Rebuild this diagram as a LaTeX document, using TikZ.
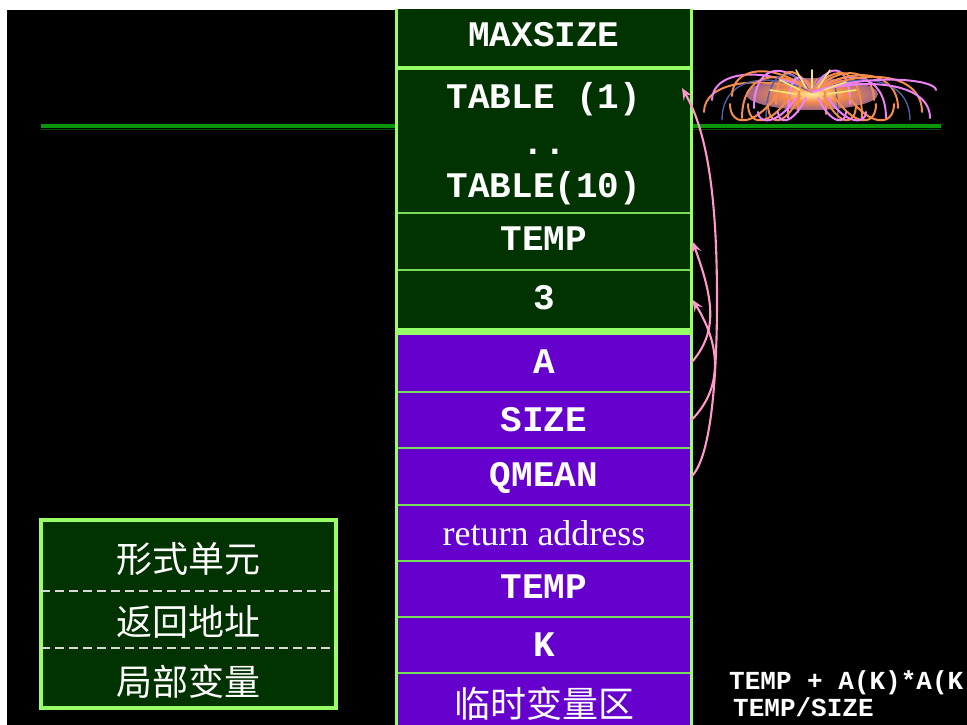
\documentclass[tikz,border=0pt]{standalone}
\usepackage{fontspec}
\setmonofont{Liberation Mono}
\newfontfamily\serifrm{Liberation Serif}
\newfontfamily\cjk{Noto Sans CJK SC}
\usetikzlibrary{arrows.meta}

\definecolor{gfill}{RGB}{0,51,0}
\definecolor{pfill}{RGB}{102,0,204}
\definecolor{edge}{RGB}{153,255,102}
\definecolor{thinline}{RGB}{120,220,90}
\definecolor{pinkarr}{RGB}{255,153,204}
\definecolor{railhi}{RGB}{10,150,10}
\definecolor{raillo}{RGB}{0,80,0}
\definecolor{fwcore}{RGB}{255,235,150}
\definecolor{fworange}{RGB}{245,140,75}
\definecolor{fwpurple}{RGB}{110,80,170}
\definecolor{fwpink}{RGB}{235,130,245}
\definecolor{fwblue}{RGB}{80,95,160}
\definecolor{fwyellow}{RGB}{245,230,120}

\pgfdeclareradialshading{fwglow}{\pgfpoint{0bp}{0bp}}{%
  color(0bp)=(fwcore); color(12bp)=(fworange); color(32bp)=(fwpurple); color(50bp)=(black)}

\tikzset{
  cell/.style={rectangle, minimum width=295, outer sep=0, inner sep=0,
               draw=thinline, line width=1.3pt},
  outline/.style={draw=edge, line width=3.2pt},
  monolab/.style={text=white, font=\ttfamily\bfseries\fontsize{36}{40}\selectfont,
                  anchor=base, inner sep=0},
  smallmono/.style={text=white, font=\ttfamily\bfseries\fontsize{26}{30}\selectfont,
                  anchor=base west, inner sep=0},
  seriflab/.style={text=white, font=\serifrm\fontsize{36}{40}\selectfont,
                  anchor=base, inner sep=0},
  cjklab/.style={text=white, font=\cjk\fontsize{36}{40}\selectfont, inner sep=0},
  lbox/.style={rectangle, minimum width=295, minimum height=188, outer sep=0,
               fill=gfill, draw=edge, line width=3.2pt},
  dashline/.style={draw=white!85!black, line width=1.3pt, dash pattern=on 9pt off 5pt},
  parr/.style={draw=pinkarr, line width=2.1pt,
               -{Stealth[length=12pt,width=10pt,inset=5pt]}},
  fwo/.style={draw=fworange, line width=2pt, line cap=round},
  fwp/.style={draw=fwpink, line width=2pt, line cap=round},
  fwb/.style={draw=fwblue, line width=1.4pt, line cap=round},
  fwy/.style={draw=fwyellow, line width=1.6pt, line cap=round},
}

\begin{document}
\begin{tikzpicture}[x=1pt,y=-1pt]
\useasboundingbox (0,0) rectangle (967,725);
\fill[white] (0,0) rectangle (967,725);
\begin{scope}
\clip (7,10) rectangle (967,725);
\fill[black] (7,10) rectangle (967,725);

% title rail
\fill[railhi] (41,124) rectangle (941,128);
\fill[raillo] (41,128.6) rectangle (941,130.2);

% firework ornament
\shade[shading=fwglow] (812,94) ellipse [x radius=66, y radius=16];
\foreach \ex/\ey/\cy/\c in {
  704/112/74/fwo, 712/100/64/fwp, 722/120/70/fwb, 732/96/60/fwo,
  742/118/66/fwo, 754/108/58/fwp, 766/120/62/fwb, 776/104/60/fwo,
  788/118/66/fwp, 798/112/70/fwo,
  826/114/68/fwo, 838/120/62/fwb, 850/104/58/fwp, 862/118/60/fwo,
  874/100/62/fwo, 886/118/66/fwp, 898/108/64/fwo, 910/120/70/fwb,
  922/112/66/fwo, 936/90/72/fwp, 930/118/76/fwp}
  \draw[\c] (812,92) .. controls (0.5*\ex+406,\cy) and (\ex,\cy+8) .. (\ex,\ey);
\foreach \sx/\ex in {790/748, 800/768, 776/730, 834/876, 824/856, 848/894}
  \draw[fwo] (\sx,96) .. controls (0.5*\sx+0.5*\ex,128) and (\ex,126) .. (\ex,104);
\foreach \sx/\ex in {806/778, 818/846, 796/758, 828/866}
  \draw[fwp] (\sx,98) .. controls (0.5*\sx+0.5*\ex,126) and (\ex,124) .. (\ex,112);
\draw[fwy] (800,90) -- (780,80);
\draw[fwy] (824,90) -- (846,82);
\draw[fwy] (812,88) -- (812,70);
\draw[fwy] (806,88) -- (796,70);
\draw[fwy] (818,88) -- (830,70);
\draw[fwy] (796,94) -- (770,90);
\draw[fwy] (828,94) -- (856,90);

% stack cells
\node[cell, fill=gfill, minimum height=68]   (maxsize) at (544,34)     {};
\node[cell, fill=gfill, minimum height=145]  (table)   at (544,140.5)  {};
\node[cell, fill=gfill, minimum height=57]   (temp1)   at (544,241.5)  {};
\node[cell, fill=gfill, minimum height=59.5] (three)   at (544,299.75) {};
\node[cell, fill=pfill, minimum height=59]   (a)       at (544,362.5)  {};
\node[cell, fill=pfill, minimum height=56]   (size)    at (544,420)    {};
\node[cell, fill=pfill, minimum height=57]   (qmean)   at (544,476.5)  {};
\node[cell, fill=pfill, minimum height=56]   (ret)     at (544,533)    {};
\node[cell, fill=pfill, minimum height=56]   (temp2)   at (544,589)    {};
\node[cell, fill=pfill, minimum height=56]   (k)       at (544,645)    {};
\node[cell, fill=pfill, minimum height=67]   (tmpzone) at (544,706.5)  {};

\draw[outline] (maxsize.north west) rectangle (maxsize.south east);
\draw[outline] (table.north west) rectangle (three.south east);
\draw[outline] (a.north west) rectangle (tmpzone.south east);

% cell texts
\node[monolab] (tmaxsize) at (544,47)  {MAXSIZE};
\node[monolab] (ttab1)    at (544,108) {TABLE (1)};
\node[monolab] (tdots)    at (544,154) {..};
\node[monolab] (ttab10)   at (544,197) {TABLE(10)};
\node[monolab] (ttemp1)   at (544,250) {TEMP};
\node[monolab] (tthree)   at (544,309) {3};
\node[monolab] (ta)       at (544,373) {A};
\node[monolab] (tsize)    at (544,431) {SIZE};
\node[monolab] (tqmean)   at (544,486) {QMEAN};
\node[seriflab] (tret)    at (544,545) {return address};
\node[monolab] (ttemp2)   at (544,598) {TEMP};
\node[monolab] (tk)       at (544,656) {K};
\node[cjklab]  (ttmp)     at (544,704) {临时变量区};

% parameter links
\coordinate (t1) at ([xshift=-9.5pt,yshift=-20pt]table.north east);
\coordinate (qbend) at (717,300);
\draw[parr] (a.east) .. controls +(26,-30) and +(22,60) .. ([xshift=1pt]temp1.east);
\draw[parr] (size.east) .. controls +(30,-30) and +(30,48) .. ([xshift=1pt]three.east);
\draw[parr] (qmean.east) .. controls +(22,-22) and +(0,60) .. (qbend)
            .. controls +(0,-100) and +(26,45) .. (t1);

% legend box
\node[lbox] (legend) at (188.5,614) {};
\draw[dashline] ([yshift=-71pt]legend.north west) -- ([yshift=-71pt]legend.north east);
\draw[dashline] ([yshift=-128pt]legend.north west) -- ([yshift=-128pt]legend.north east);
\node[cjklab] (lg1) at (188.5,559) {形式单元};
\node[cjklab] (lg2) at (188.5,622) {返回地址};
\node[cjklab] (lg3) at (188.5,682) {局部变量};

% expressions
\node[smallmono] (expr1) at (729,689) {TEMP + A(K)*A(K};
\node[smallmono] (expr2) at (733,716) {TEMP/SIZE};
\end{scope}
\end{tikzpicture}
\end{document}
